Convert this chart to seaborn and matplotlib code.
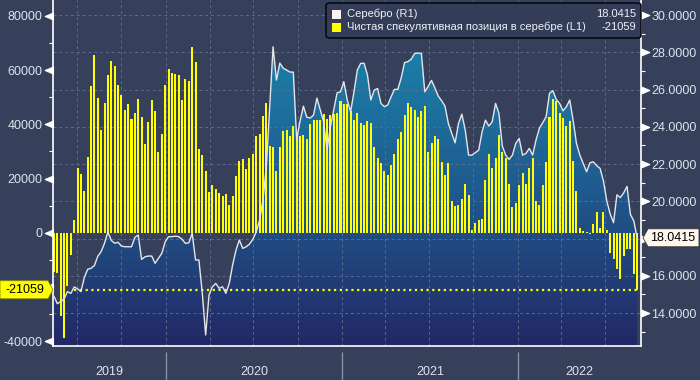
import pandas as pd
import numpy as np
import matplotlib
matplotlib.use('Agg')
import matplotlib.pyplot as plt
import matplotlib.dates as mdates
from matplotlib.path import Path
from matplotlib.patches import Polygon, FancyBboxPatch, Rectangle
from matplotlib.ticker import MultipleLocator, FuncFormatter, NullFormatter
from matplotlib.colors import LinearSegmentedColormap
import seaborn as sns

# недельные данные CFTC (вторник) и цена серебра
dates = pd.date_range('2019-05-14', periods=174, freq='7D')

net_pos = [
    -14600, -14900, -30600, -38700, -19700, -8200, 4800, 23700, 21700, 15500,
    28000, 54100, 65500, 49700, 37900, 47900, 58200, 63300, 61500, 54500,
    50800, 45300, 47500, 42000, 44200, 49300, 42700, 32800, 40900, 49000,
    44900, 29800, 36400, 54500, 60400, 58800, 58400, 58200, 49000, 56600,
    56000, 68500, 63000, 30900, 28700, 22800, 15100, 17700, 16200, 14700,
    13600, 14200, 10300, 13600, 21000, 26500, 27200, 23600, 27600, 29100,
    35700, 36400, 43100, 47900, 32000, 31700, 22800, 31700, 37500, 37900,
    35700, 39400, 35700, 35700, 36100, 34600, 40100, 41600, 41600, 41600,
    43800, 42000, 43400, 43800, 44200, 48600, 47500, 47500, 44900, 41600,
    44200, 40500, 39800, 41200, 40500, 31700, 27600, 25800, 22800, 21300,
    25000, 29100, 34600, 37200, 43400, 47900, 46400, 45300, 42700, 44900,
    46700, 29800, 33100, 35700, 34600, 26100, 21300, 25800, 11800, 9900,
    10300, 12500, 18000, 14000, 1100, 3700, 4800, 5200, 19500, 29100,
    23900, 27600, 36100, 29800, 27600, 18000, 9600, 11000, 17700, 22100,
    18000, 23900, 27600, 11800, 10300, 17700, 26100, 42700, 49300, 48600,
    44200, 42300, 39400, 41200, 26500, 15500, 1800, 700, 300, -300,
    3300, 7700, 1800, 7700, 900, -7400, -9700, -13400, -17100, -8500,
    -6100, -5900, -15300, -21059]

silver = [
    14.90, 14.50, 14.62, 14.75, 15.15, 15.05, 15.40, 15.30, 15.15, 15.90,
    16.35, 16.40, 16.55, 17.05, 17.30, 17.75, 18.35, 17.90, 17.75, 17.80,
    17.60, 17.56, 17.56, 17.56, 18.06, 18.19, 16.88, 17.02, 17.06, 17.06,
    16.67, 16.94, 17.21, 17.83, 18.10, 18.10, 18.13, 18.10, 17.96, 17.74,
    17.77, 18.28, 16.85, 16.85, 15.06, 12.82, 14.97, 15.41, 15.59, 15.33,
    15.41, 15.06, 15.59, 16.58, 17.38, 17.92, 17.47, 17.56, 17.70, 17.96,
    18.35, 18.99, 20.07, 21.86, 25.08, 28.30, 26.51, 27.42, 27.15, 27.05,
    26.94, 26.94, 23.34, 24.31, 25.11, 24.52, 24.47, 24.63, 25.54, 24.90,
    24.27, 22.75, 24.00, 24.90, 25.83, 25.88, 26.42, 25.44, 24.81, 25.88,
    27.05, 27.41, 27.41, 26.78, 25.44, 25.97, 26.06, 25.26, 25.08, 25.17,
    25.61, 26.01, 26.01, 26.62, 27.45, 27.50, 27.64, 27.94, 27.96, 27.94,
    25.88, 26.17, 26.49, 26.09, 25.65, 25.40, 25.11, 24.18, 23.65, 23.14,
    24.18, 24.68, 23.83, 22.48, 22.48, 22.61, 22.75, 23.73, 24.36, 24.04,
    24.27, 25.26, 24.72, 22.97, 22.48, 22.25, 22.48, 23.11, 23.38, 22.48,
    22.57, 22.84, 22.48, 23.29, 23.92, 24.22, 24.54, 25.80, 25.94, 25.47,
    25.26, 24.86, 25.08, 25.44, 24.36, 23.11, 22.48, 22.04, 21.59, 22.07,
    22.12, 21.91, 21.77, 21.09, 20.01, 19.32, 18.85, 20.35, 20.20, 20.45,
    20.80, 19.30, 18.95, 18.0415]

last_pos = -21059
last_silver = 18.0415
year_labels = ['2019', '2020', '2021', '2022']
legend_labels = ['Серебро (R1)', 'Чистая спекулятивная позиция в серебре (L1)']

BG = '#36405a'
TXT = '#dde4ef'
YEL = '#ffff00'

sns.set_style('dark')
plt.rcParams['font.family'] = ['Liberation Sans', 'DejaVu Sans']

fig = plt.figure(figsize=(7, 3.8), dpi=100, facecolor=BG)
ax = fig.add_axes([53 / 700, 1 - 346 / 380, 588 / 700, 346 / 380])
ax2 = ax.twinx()
ax3 = ax.twinx()
ax2.set_zorder(1)
ax.set_zorder(2)
ax3.set_zorder(3)
for a in (ax, ax2, ax3):
    a.patch.set_visible(False)

xlo = dates[0] - pd.Timedelta(days=2)
xhi = dates[-1] + pd.Timedelta(days=8)
ylo2, yhi2 = 12.23, 30.81

# заливка под ценой серебра - градиент
poly = ax2.fill_between(dates, silver, ylo2, facecolor='none', edgecolor='none')
cmap = LinearSegmentedColormap.from_list('bb', [(0, '#1a8db0'), (0.55, '#1f5a8e'), (1, '#222865')])
grad = np.linspace(0, 1, 256).reshape(-1, 1)
img = ax2.imshow(grad, cmap=cmap, aspect='auto', zorder=0,
                 extent=[mdates.date2num(xlo), mdates.date2num(xhi), ylo2, yhi2])
img.set_clip_path(poly.get_paths()[0], ax2.transData)

# позиции
ax.bar(dates, net_pos, width=4.2, color=YEL, edgecolor='none', linewidth=0,
       antialiased=False, zorder=2)
ax.plot([dates[6], dates[-1]], [last_pos, last_pos], color=YEL, lw=1.6,
        ls=(0, (1, 1.6)), zorder=3)

# цена
sns.lineplot(x=dates, y=silver, ax=ax3, color='#e4e6ec', lw=1.0)

for a in (ax, ax2, ax3):
    a.set_xlim(xlo, xhi)
ax.set_ylim(-41830, 85900)
ax2.set_ylim(ylo2, yhi2)
ax3.set_ylim(ylo2, yhi2)
ax3.set_axis_off()

# оси (метки, закрытые плашками последних значений, не пишем)
ax.set_yticks(range(-40000, 80001, 20000))
ax.yaxis.set_minor_locator(MultipleLocator(10000))
ax.yaxis.set_major_formatter(FuncFormatter(lambda v, p: '' if v == -20000 else f'{int(v)}'))
ax2.set_yticks(range(14, 31, 2))
ax2.yaxis.set_minor_locator(MultipleLocator(1))
ax2.yaxis.set_major_formatter(FuncFormatter(lambda v, p: '' if v == 18 else f'{v:.4f}'))
ax.xaxis.set_major_locator(mdates.MonthLocator(bymonth=[1, 4, 7, 10]))
ax.xaxis.set_minor_locator(mdates.MonthLocator())
ax.xaxis.set_major_formatter(NullFormatter())
ax.set_xlabel('')
ax.set_ylabel('')
ax2.set_ylabel('')

for s in ax.spines.values():
    s.set_visible(False)
for s in ax2.spines.values():
    s.set_visible(False)
ax.spines['left'].set_visible(True)
ax.spines['bottom'].set_visible(True)
ax2.spines['right'].set_visible(True)
for s in (ax.spines['left'], ax.spines['bottom'], ax2.spines['right']):
    s.set_color('white')
    s.set_linewidth(1.2)

ax.tick_params(axis='y', which='major', length=6, pad=1.5, labelsize=9, labelcolor=TXT, color='white')
ax.tick_params(axis='y', which='minor', length=3, width=0.8, color='white')
ax2.tick_params(axis='y', which='major', length=6, pad=1.5, labelsize=9, labelcolor=TXT, color='white')
ax2.tick_params(axis='y', which='minor', length=3, width=0.8, color='white')
ax.tick_params(axis='x', which='both', length=3, width=0.8, color='white', direction='out')

ax.set_axisbelow(True)
ax.xaxis.grid(True, which='major', color='#5a6b8e', ls=(0, (3, 3)), lw=0.7)
ax.yaxis.grid(False)
ax2.yaxis.grid(True, which='major', color='#5a6b8e', ls=(0, (3, 3)), lw=0.7)
ax2.xaxis.grid(False)

tri_l = Path([(0, -0.5), (0, 0.5), (-1.2, 0), (0, -0.5)],
             [Path.MOVETO, Path.LINETO, Path.LINETO, Path.CLOSEPOLY])
tri_r = Path([(0, -0.5), (0, 0.5), (1.2, 0), (0, -0.5)],
             [Path.MOVETO, Path.LINETO, Path.LINETO, Path.CLOSEPOLY])
for t in ax.yaxis.get_major_ticks():
    t.tick1line.set_marker(tri_l)
    t.tick1line.set_markersize(12)
    t.tick1line.set_markerfacecolor('white')
    t.tick1line.set_markeredgecolor('white')
for t in ax2.yaxis.get_major_ticks():
    t.tick2line.set_marker(tri_r)
    t.tick2line.set_markersize(12)
    t.tick2line.set_markerfacecolor('white')
    t.tick2line.set_markeredgecolor('white')

# годы внизу
bounds = [xlo, pd.Timestamp('2020-01-01'), pd.Timestamp('2021-01-01'),
          pd.Timestamp('2022-01-01'), xhi]
ax.vlines(bounds[1:-1], -0.017, -0.1, transform=ax.get_xaxis_transform(),
          color='#8790a6', lw=1, clip_on=False)
for i, lab in enumerate(year_labels):
    mid = bounds[i] + (bounds[i + 1] - bounds[i]) / 2
    ax.text(mid, -0.075, lab, transform=ax.get_xaxis_transform(), ha='center',
            va='center', fontsize=9, color=TXT)

# легенда
W, H = 700, 380
fig.patches.append(FancyBboxPatch((326 / W, 1 - 38 / H), 315 / W, 35 / H,
                                  boxstyle='round,pad=0,rounding_size=0.006',
                                  transform=fig.transFigure, facecolor='#333d57',
                                  edgecolor='black', lw=1, zorder=5))
for i, (lab, val, col) in enumerate(zip(legend_labels, ['18.0415', str(last_pos)], ['#fbf3f0', YEL])):
    yc = 1 - (14 + 13 * i) / H
    fig.patches.append(Rectangle((332 / W, yc - 4.5 / H), 9 / W, 9 / H, transform=fig.transFigure,
                                 facecolor=col, edgecolor='none', zorder=6))
    fig.text(347 / W, yc, lab, fontsize=8, color='#eef1f6', va='center', ha='left', zorder=7)
    fig.text(636 / W, yc, val, fontsize=8, color='#eef1f6', va='center', ha='right', zorder=7)

# метки последних значений
fig.canvas.draw()
yl = ax.transData.transform((0, last_pos))[1] / H
yr = ax2.transData.transform((0, last_silver))[1] / H
h = 9 / H
fig.patches.append(Polygon([(0 / W, yl - h), (48 / W, yl - h), (53 / W, yl), (48 / W, yl + h), (0 / W, yl + h)],
                           closed=True, transform=fig.transFigure, facecolor=YEL,
                           edgecolor='#8a8a00', lw=0.6, zorder=8))
fig.text(25 / W, yl, str(last_pos), fontsize=9, color='black', ha='center', va='center', zorder=9)
fig.patches.append(Polygon([(643 / W, yr), (648 / W, yr - h), (699 / W, yr - h), (699 / W, yr + h), (648 / W, yr + h)],
                           closed=True, transform=fig.transFigure, facecolor='#fff6ee',
                           edgecolor='#333333', lw=0.6, zorder=8))
fig.text(673 / W, yr, f'{last_silver:.4f}', fontsize=9, color='black', ha='center', va='center', zorder=9)

fig.savefig('out.png', dpi=100, facecolor=BG)
